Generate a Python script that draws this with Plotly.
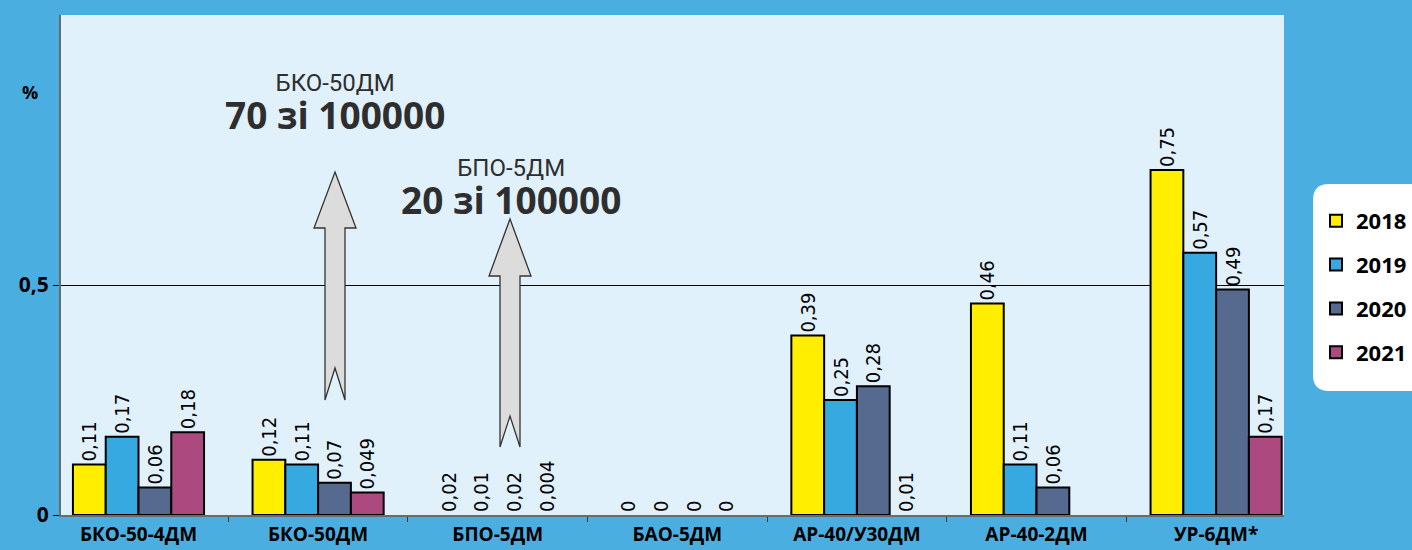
import plotly.graph_objects as go

# ---------------- data ----------------
categories = ["БКО-50-4ДМ", "БКО-50ДМ", "БПО-5ДМ", "БАО-5ДМ", "АР-40/У30ДМ", "АР-40-2ДМ", "УР-6ДМ*"]
years = ["2018", "2019", "2020", "2021"]

# bar heights as drawn in the picture (tiny values are drawn flat)
h2018 = [0.11, 0.12, 0, 0, 0.39, 0.46, 0.75]
h2019 = [0.17, 0.11, 0, 0, 0.25, 0.11, 0.57]
h2020 = [0.06, 0.07, 0, 0, 0.28, 0.06, 0.49]
h2021 = [0.18, 0.049, 0, 0, 0, None, 0.17]

# value labels printed above the bars
t2018 = ["0,11", "0,12", "0,02", "0", "0,39", "0,46", "0,75"]
t2019 = ["0,17", "0,11", "0,01", "0", "0,25", "0,11", "0,57"]
t2020 = ["0,06", "0,07", "0,02", "0", "0,28", "0,06", "0,49"]
t2021 = ["0,18", "0,049", "0,004", "0", "0,01", "", "0,17"]

ytick_vals = [0, 0.5]
ytick_text = ["0", "0,5"]

colors = ["#FFEE00", "#36A9E1", "#566A8F", "#AC4A80"]

# ---------------- layout constants (pixels) ----------------
W, H = 1412, 550
L, R, T, B = 61, 128, 15, 35
PW, PH = W - L - R, H - T - B


def px(x):
    return (x - L) / PW


def py(y):
    return (H - B - y) / PH


fig = go.Figure()
heights = [h2018, h2019, h2020, h2021]
labels = [t2018, t2019, t2020, t2021]
for i, yr in enumerate(years):
    widths = [2 if (v is not None and v > 0) else 0 for v in heights[i]]
    fig.add_trace(go.Bar(
        x=categories, y=heights[i], name=yr, legendgroup=yr,
        marker=dict(color=colors[i], line=dict(color="#000000", width=widths)),
        text=labels[i], textposition="outside", textangle=-90,
        constraintext="none", cliponaxis=False,
        textfont=dict(family="Liberation Sans Narrow, DejaVu Sans Condensed, sans-serif",
                      size=20, color="#000000"),
        hoverinfo="skip",
    ))


def arrow_path(cx, tip, head, bottom, notch, hw=21, sw=10):
    pts = [(cx, tip), (cx + hw, head), (cx + sw, head), (cx + sw, bottom),
           (cx, notch), (cx - sw, bottom), (cx - sw, head), (cx - hw, head)]
    return "M" + " L".join(f"{px(a):.5f},{py(b):.5f}" for a, b in pts) + " Z"


shapes = [
    dict(type="path", xref="paper", yref="paper", path=arrow_path(335, 172, 228, 400, 368),
         fillcolor="#DCDCDC", line=dict(color="#333333", width=1.3), layer="above"),
    dict(type="path", xref="paper", yref="paper", path=arrow_path(510, 219, 276, 447, 416),
         fillcolor="#DCDCDC", line=dict(color="#333333", width=1.3), layer="above"),
]

# rounded white legend box
x0, x1, y0, y1, r = 1313, 1440, 184, 391, 16
rx, ry = r / PW, r / PH
X0, X1, Y0, Y1 = px(x0), px(x1), py(y0), py(y1)
rpath = (f"M{X0 + rx},{Y0} L{X1},{Y0} L{X1},{Y1} L{X0 + rx},{Y1} "
         f"Q{X0},{Y1} {X0},{Y1 + ry} L{X0},{Y0 - ry} Q{X0},{Y0} {X0 + rx},{Y0} Z")
shapes.append(dict(type="path", xref="paper", yref="paper", path=rpath,
                   fillcolor="#FFFFFF", line=dict(width=0), layer="below"))


def two_line(small, big):
    return (f"<span style='font-size:24px;font-family:Roboto'>{small}</span><br>"
            f"<span style='font-size:37px;font-weight:bold'>{big}</span>")


ann_font = dict(family="Open Sans, sans-serif", size=29.5, color="#2e2e2e")
annotations = [
    dict(text=two_line("БКО-50ДМ", "70 зі 100000"), x=px(335), y=py(104),
         xref="paper", yref="paper", showarrow=False, align="center",
         font=ann_font, xanchor="center", yanchor="middle", borderpad=0),
    dict(text=two_line("БПО-5ДМ", "20 зі 100000"), x=px(511), y=py(189),
         xref="paper", yref="paper", showarrow=False, align="center",
         font=ann_font, xanchor="center", yanchor="middle", borderpad=0),
    dict(text="%", x=px(30), y=py(92), xref="paper", yref="paper", showarrow=False,
         font=dict(family="Open Sans, sans-serif", size=18, color="#000000", weight="bold"),
         xanchor="center", yanchor="middle"),
]

fig.update_layout(
    width=W, height=H,
    margin=dict(l=L, r=R, t=T, b=B, pad=0, autoexpand=False),
    paper_bgcolor="#4BAEE0",
    plot_bgcolor="#E1F1FB",
    barmode="group", bargap=0.27, bargroupgap=0,
    showlegend=True,
    hovermode=False,
    legend=dict(x=px(1316), y=py(200), xanchor="left", yanchor="top",
                bgcolor="rgba(0,0,0,0)", tracegroupgap=12.2,
                font=dict(family="Open Sans, sans-serif", size=22, color="#000000", weight="bold")),
    shapes=shapes,
    annotations=annotations,
    xaxis=dict(
        type="category", range=[-0.4315, 6.378], automargin=False,
        showline=True, linecolor="#6b6b6b", linewidth=2,
        ticks="outside", tickson="boundaries", ticklen=5, tickcolor="#333333",
        showgrid=False,
        tickfont=dict(family="Open Sans, sans-serif", size=19, color="#000000", weight="bold"),
        ticklabelstandoff=1,
    ),
    yaxis=dict(
        range=[0, 1.087], tickvals=ytick_vals, ticktext=ytick_text, automargin=False,
        showline=True, linecolor="#6b6b6b", linewidth=2,
        ticks="outside", ticklen=6, tickcolor="#000000",
        showgrid=True, gridcolor="#000000", gridwidth=1, zeroline=False,
        tickfont=dict(family="Open Sans, sans-serif", size=21, color="#000000", weight="bold"),
    ),
)

fig.write_html(
    "out.html",
    config={"displayModeBar": False},
    post_script="document.body.style.margin='0';document.body.style.overflow='hidden';",
)
